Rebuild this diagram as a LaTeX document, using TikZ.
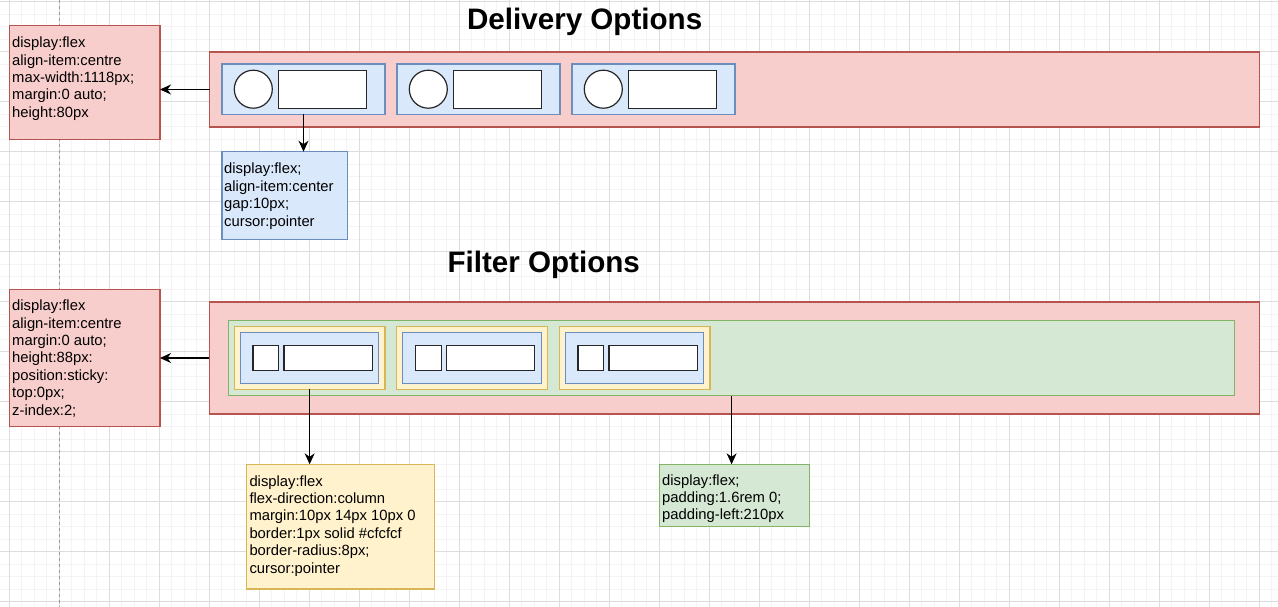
\documentclass[tikz,border=0pt]{standalone}
\usepackage{fontspec}
\setmainfont{Liberation Sans}
\usetikzlibrary{arrows.meta}
\definecolor{redfill}{HTML}{F8CECC}\definecolor{redline}{HTML}{B85450}
\definecolor{bluefill}{HTML}{DAE8FC}\definecolor{blueline}{HTML}{6C8EBF}
\definecolor{yelfill}{HTML}{FFF2CC}\definecolor{yelline}{HTML}{D6B656}
\definecolor{grnfill}{HTML}{D5E8D4}\definecolor{grnline}{HTML}{82B366}
\definecolor{gridmajor}{HTML}{DDDDDD}\definecolor{gridminor}{HTML}{F4F4F4}
\tikzset{
  bx/.style={rectangle, inner sep=0pt, outer sep=0pt, line width=1.2pt, anchor=north west},
  redbox/.style={bx, fill=redfill, draw=redline},
  bluebox/.style={bx, fill=bluefill, draw=blueline},
  yelbox/.style={bx, fill=yelfill, draw=yelline},
  grnbox/.style={bx, fill=grnfill, draw=grnline},
  whitebox/.style={bx, fill=white, draw=black!85},
  whitecirc/.style={circle, inner sep=0pt, fill=white, draw=black!85, line width=1.2pt, minimum size=38pt},
  notetext/.style={anchor=base west, inner sep=0pt, font=\fontsize{14.8}{17.4}\selectfont},
  title/.style={anchor=base, inner sep=0pt, font=\fontsize{29.6}{34}\selectfont\bfseries},
  arr/.style={line width=1.2pt, -{Stealth[length=11pt,width=10pt,inset=3.5pt]}},
  gminor/.style={line width=0.8pt, draw=gridminor},
  gmajor/.style={line width=0.8pt, draw=gridmajor}
}
\begin{document}
\begin{tikzpicture}[x=1pt,y=-1pt]
\useasboundingbox (0,0) rectangle (1278,607);
\fill[white] (0,0) rectangle (1278,607);
% grid
\foreach \k in {0,...,103} {
  \pgfmathsetmacro{\gx}{-3.2+12.5*\k}
  \draw[gminor] (\gx,0) -- (\gx,607);
}
\foreach \k in {0,...,49} {
  \pgfmathsetmacro{\gy}{1.7+12.5*\k}
  \draw[gminor] (0,\gy) -- (1278,\gy);
}
\foreach \k in {0,...,25} {
  \pgfmathsetmacro{\gx}{9.3+50*\k}
  \draw[gmajor] (\gx,0) -- (\gx,607);
}
\foreach \k in {0,...,12} {
  \pgfmathsetmacro{\gy}{1.7+50*\k}
  \draw[gmajor] (0,\gy) -- (1278,\gy);
}
\draw[line width=1pt, draw=black!40, dash pattern=on 3pt off 3pt] (59.3,0) -- (59.3,607);

% ---------- Delivery Options ----------
\node[title] (t1) at (584.7,30) {Delivery Options};
\node[redbox, minimum width=150.7pt, minimum height=114pt] (dnote) at (9.3,25.3) {};
\node[notetext] (dnotetxt) at (12,47.7) {\begin{tabular}[t]{@{}l@{}}display:flex\\align-item:centre\\max-width:1118px;\\margin:0 auto;\\height:80px\end{tabular}};
\node[redbox, minimum width=1050.2pt, minimum height=75pt] (dcont) at (209.5,52) {};
\foreach \k in {0,1,2} {
  \pgfmathsetmacro{\ix}{222+175*\k}
  \node[bluebox, minimum width=163pt, minimum height=50.3pt] (ditem\k) at (\ix,64) {};
  \node[whitecirc] (dcirc\k) at (\ix+31.3,89.2) {};
  \node[whitebox, minimum width=88pt, minimum height=38pt] (drect\k) at (\ix+56.3,70.7) {};
}
\node[bluebox, minimum width=125.3pt, minimum height=87.6pt] (bnote) at (222,151.7) {};
\node[notetext] (bnotetxt) at (224,174) {\begin{tabular}[t]{@{}l@{}}display:flex;\\align-item:center\\gap:10px;\\cursor:pointer\end{tabular}};
\draw[arr] (dcont.west) -- (dnote.east |- dcont.west);
\draw[arr] (ditem0.south) -- (bnote.north -| ditem0.south);

% ---------- Filter Options ----------
\node[title] (t2) at (543.7,272.3) {Filter Options};
\node[redbox, minimum width=150.7pt, minimum height=137.4pt] (fnote) at (9.3,289.3) {};
\node[notetext] (fnotetxt) at (12,310.7) {\begin{tabular}[t]{@{}l@{}}display:flex\\align-item:centre\\margin:0 auto;\\height:88px:\\position:sticky:\\top:0px;\\z-index:2;\end{tabular}};
\node[redbox, minimum width=1050.4pt, minimum height=112pt] (fcont) at (209.3,302) {};
\node[grnbox, minimum width=1006.2pt, minimum height=75pt] (green) at (228.5,320.7) {};
\foreach \k in {0,1,2} {
  \pgfmathsetmacro{\ix}{234.3+162.5*\k}
  \node[yelbox, minimum width=150.7pt, minimum height=62.6pt] (yitem\k) at (\ix,326.7) {};
  \node[bluebox, minimum width=138.4pt, minimum height=50.6pt] (fitem\k) at (\ix+6,332.7) {};
  \node[whitebox, minimum width=25.7pt, minimum height=25.4pt] (fsq\k) at (\ix+18.7,345.3) {};
  \node[whitebox, minimum width=88.3pt, minimum height=25.4pt] (frect\k) at (\ix+49.7,345.3) {};
}
\node[yelbox, minimum width=187.6pt, minimum height=124.7pt] (ynote) at (246.7,464.3) {};
\node[notetext] (ynotetxt) at (249.3,486) {\begin{tabular}[t]{@{}l@{}}display:flex\\flex-direction:column\\margin:10px 14px 10px 0\\border:1px solid \#cfcfcf\\border-radius:8px;\\cursor:pointer\end{tabular}};
\node[grnbox, minimum width=150pt, minimum height=62.4pt] (gnote) at (659.3,464.3) {};
\node[notetext] (gnotetxt) at (662,485) {\begin{tabular}[t]{@{}l@{}}display:flex;\\padding:1.6rem 0;\\padding-left:210px\end{tabular}};
\draw[arr] (fcont.west) -- (fnote.east |- fcont.west);
\draw[arr] (yitem0.south) -- (ynote.north -| yitem0.south);
\draw[arr] (green.south) -- (green.south |- gnote.north);
\end{tikzpicture}
\end{document}
